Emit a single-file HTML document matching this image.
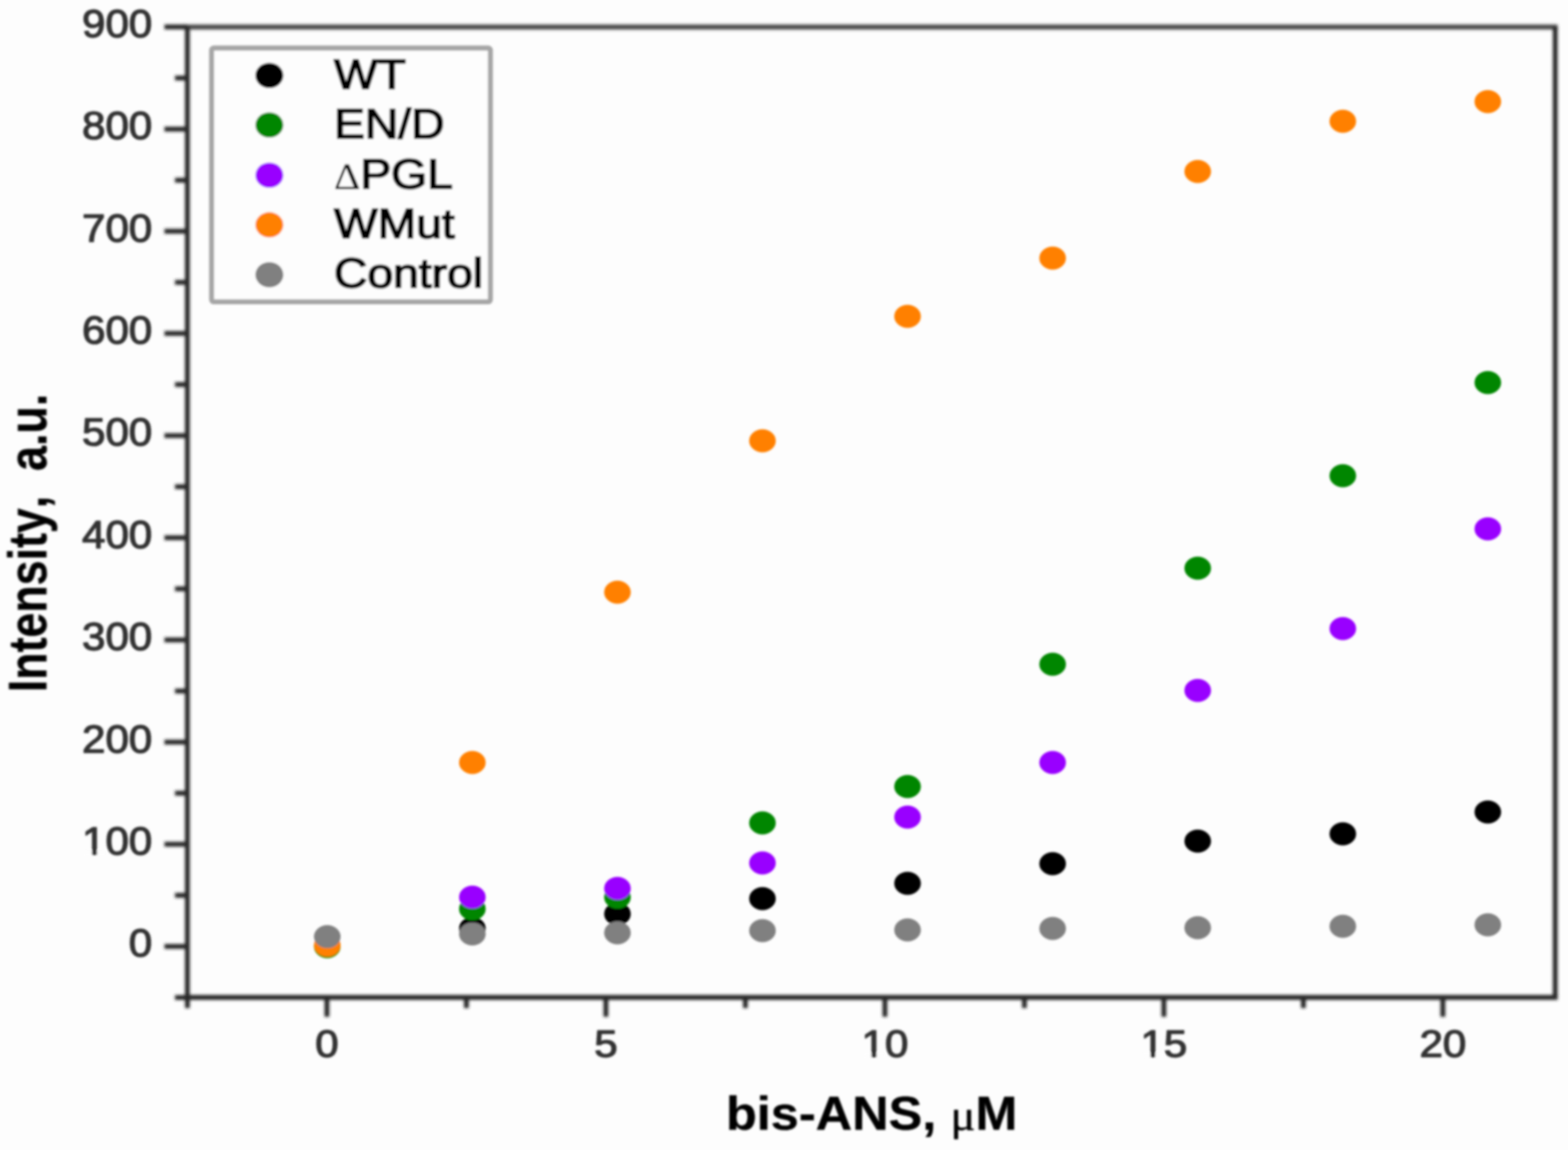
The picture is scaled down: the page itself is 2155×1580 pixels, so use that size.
<!DOCTYPE html>
<html lang="en">
<head>
<meta charset="utf-8">
<title>bis-ANS fluorescence intensity</title>
<style>
html,body{margin:0;padding:0;background:#fdfdfd;}
body{width:2155px;height:1580px;overflow:hidden;}
svg{display:block;position:absolute;left:0;top:0;}
text{font-family:"Liberation Sans",Arial,Helvetica,sans-serif;font-kerning:none;}
.tick{font-size:53.5px;fill:#333;stroke:#333;stroke-width:1.6px;stroke-linejoin:round;}
.leg{font-size:56.5px;fill:#000;stroke:#000;stroke-width:2.2px;stroke-linejoin:round;}
.ttl{font-size:61.5px;font-weight:bold;fill:#000;stroke:#000;stroke-width:0.4px;stroke-linejoin:round;}
.sym{font-family:"Liberation Serif","DejaVu Serif",serif;font-weight:normal;}
</style>
</head>
<body>
<svg width="2155" height="1580" viewBox="0 0 2155 1580">
<defs>
<filter id="b" x="-5%" y="-5%" width="110%" height="110%"><feGaussianBlur stdDeviation="1.4"/></filter>
<filter id="ba" x="-5%" y="-5%" width="110%" height="110%"><feGaussianBlur stdDeviation="1.9"/></filter>
<filter id="bt" x="-5%" y="-5%" width="110%" height="110%"><feGaussianBlur stdDeviation="1.8"/></filter>
</defs>
<rect x="0" y="0" width="2155" height="1580" fill="#fdfdfd"/>

<g filter="url(#ba)" stroke="#262626" stroke-width="6.6" fill="none" stroke-linecap="butt">
<line x1="254.2" y1="37.1" x2="2140.7000000000003" y2="37.1" stroke="#444"/>
<line x1="257.5" y1="37.0" x2="257.5" y2="1370.5"/>
<line x1="254.2" y1="1370.4" x2="2140.7000000000003" y2="1370.4"/>
<line x1="2137.4" y1="37.0" x2="2137.4" y2="1370.5"/>
<line x1="226" y1="1300.3" x2="257.5" y2="1300.3"/>
<line x1="226" y1="1159.9" x2="257.5" y2="1159.9"/>
<line x1="226" y1="1019.6" x2="257.5" y2="1019.6"/>
<line x1="226" y1="879.2" x2="257.5" y2="879.2"/>
<line x1="226" y1="738.8" x2="257.5" y2="738.8"/>
<line x1="226" y1="598.5" x2="257.5" y2="598.5"/>
<line x1="226" y1="458.1" x2="257.5" y2="458.1"/>
<line x1="226" y1="317.7" x2="257.5" y2="317.7"/>
<line x1="226" y1="177.4" x2="257.5" y2="177.4"/>
<line x1="226" y1="37.0" x2="257.5" y2="37.0"/>
<line x1="240.5" y1="1370.5" x2="257.5" y2="1370.5"/>
<line x1="240.5" y1="1230.1" x2="257.5" y2="1230.1"/>
<line x1="240.5" y1="1089.8" x2="257.5" y2="1089.8"/>
<line x1="240.5" y1="949.4" x2="257.5" y2="949.4"/>
<line x1="240.5" y1="809.0" x2="257.5" y2="809.0"/>
<line x1="240.5" y1="668.7" x2="257.5" y2="668.7"/>
<line x1="240.5" y1="528.3" x2="257.5" y2="528.3"/>
<line x1="240.5" y1="387.9" x2="257.5" y2="387.9"/>
<line x1="240.5" y1="247.6" x2="257.5" y2="247.6"/>
<line x1="240.5" y1="107.2" x2="257.5" y2="107.2"/>
<line x1="449.3" y1="1370.5" x2="449.3" y2="1397"/>
<line x1="832.7" y1="1370.5" x2="832.7" y2="1397"/>
<line x1="1216.2" y1="1370.5" x2="1216.2" y2="1397"/>
<line x1="1599.6" y1="1370.5" x2="1599.6" y2="1397"/>
<line x1="1983.0" y1="1370.5" x2="1983.0" y2="1397"/>
<line x1="257.6" y1="1370.5" x2="257.6" y2="1385"/>
<line x1="641.0" y1="1370.5" x2="641.0" y2="1385"/>
<line x1="1024.4" y1="1370.5" x2="1024.4" y2="1385"/>
<line x1="1407.9" y1="1370.5" x2="1407.9" y2="1385"/>
<line x1="1791.3" y1="1370.5" x2="1791.3" y2="1385"/>
</g>
<g filter="url(#bt)">
<text class="tick" text-anchor="end" transform="translate(209.2,1314.2) scale(1.08,1)">0</text>
<text class="tick" text-anchor="end" transform="translate(209.2,1173.8) scale(1.08,1)">100</text>
<g transform="translate(209.2,1173.8) scale(1.08,1)" fill="#fdfdfd"><rect x="-86.79" y="-5.60" width="10.18" height="7.20"/><rect x="-70.28" y="-5.60" width="9.76" height="7.20"/></g>
<text class="tick" text-anchor="end" transform="translate(209.2,1033.5) scale(1.08,1)">200</text>
<text class="tick" text-anchor="end" transform="translate(209.2,893.1) scale(1.08,1)">300</text>
<text class="tick" text-anchor="end" transform="translate(209.2,752.7) scale(1.08,1)">400</text>
<text class="tick" text-anchor="end" transform="translate(209.2,612.4) scale(1.08,1)">500</text>
<text class="tick" text-anchor="end" transform="translate(209.2,472.0) scale(1.08,1)">600</text>
<text class="tick" text-anchor="end" transform="translate(209.2,331.6) scale(1.08,1)">700</text>
<text class="tick" text-anchor="end" transform="translate(209.2,191.3) scale(1.08,1)">800</text>
<text class="tick" text-anchor="end" transform="translate(209.2,50.9) scale(1.08,1)">900</text>
<text class="tick" style="font-size:51.8px" text-anchor="middle" transform="translate(449.3,1452) scale(1.115,1)">0</text>
<text class="tick" style="font-size:51.8px" text-anchor="middle" transform="translate(832.7,1452) scale(1.115,1)">5</text>
<text class="tick" style="font-size:51.8px" text-anchor="middle" transform="translate(1216.2,1452) scale(1.115,1)">10</text>
<g transform="translate(1216.2,1452.0) scale(1.115,1)" fill="#fdfdfd"><rect x="-26.46" y="-5.47" width="9.88" height="7.07"/><rect x="-10.40" y="-5.47" width="9.48" height="7.07"/></g>
<text class="tick" style="font-size:51.8px" text-anchor="middle" transform="translate(1599.6,1452) scale(1.115,1)">15</text>
<g transform="translate(1599.6,1452.0) scale(1.115,1)" fill="#fdfdfd"><rect x="-26.46" y="-5.47" width="9.88" height="7.07"/><rect x="-10.40" y="-5.47" width="9.48" height="7.07"/></g>
<text class="tick" style="font-size:51.8px" text-anchor="middle" transform="translate(1983.0,1452) scale(1.115,1)">20</text>
<text class="ttl" style="font-size:65px" text-anchor="middle" transform="translate(1198,1552.3) scale(1.068,1)">bis-ANS, <tspan class="sym" style="font-size:60px;stroke-width:0.6px">μ</tspan>M</text>
<text class="ttl" text-anchor="middle" xml:space="preserve" transform="translate(63.6,746) scale(1.208,1) rotate(-90)">Intensity,  a.u.</text>
</g>
<g filter="url(#b)">
<g fill="#000000">
<ellipse cx="649.2" cy="1275.6" rx="18.3" ry="15.8"/>
<ellipse cx="848.6" cy="1255.6" rx="18.3" ry="15.8"/>
<ellipse cx="1047.9" cy="1234.6" rx="18.3" ry="15.8"/>
<ellipse cx="1247.3" cy="1213.6" rx="18.3" ry="15.8"/>
<ellipse cx="1446.7" cy="1186.6" rx="18.3" ry="15.8"/>
<ellipse cx="1646.1" cy="1155.6" rx="18.3" ry="15.8"/>
<ellipse cx="1845.5" cy="1145.6" rx="18.3" ry="15.8"/>
<ellipse cx="2044.8" cy="1115.6" rx="18.3" ry="15.8"/>
</g>
<g fill="#008600">
<ellipse cx="449.8" cy="1300.6" rx="18.3" ry="15.8"/>
<ellipse cx="649.2" cy="1248.6" rx="18.3" ry="15.8"/>
<ellipse cx="848.6" cy="1232.6" rx="18.3" ry="15.8"/>
<ellipse cx="1047.9" cy="1130.6" rx="18.3" ry="15.8"/>
<ellipse cx="1247.3" cy="1080.6" rx="18.3" ry="15.8"/>
<ellipse cx="1446.7" cy="912.6" rx="18.3" ry="15.8"/>
<ellipse cx="1646.1" cy="780.6" rx="18.3" ry="15.8"/>
<ellipse cx="1845.5" cy="653.6" rx="18.3" ry="15.8"/>
<ellipse cx="2044.8" cy="525.6" rx="18.3" ry="15.8"/>
</g>
<g fill="#9900ff">
<ellipse cx="649.2" cy="1232.6" rx="18.3" ry="15.8"/>
<ellipse cx="848.6" cy="1220.6" rx="18.3" ry="15.8"/>
<ellipse cx="1047.9" cy="1185.6" rx="18.3" ry="15.8"/>
<ellipse cx="1247.3" cy="1122.6" rx="18.3" ry="15.8"/>
<ellipse cx="1446.7" cy="1047.6" rx="18.3" ry="15.8"/>
<ellipse cx="1646.1" cy="948.6" rx="18.3" ry="15.8"/>
<ellipse cx="1845.5" cy="863.6" rx="18.3" ry="15.8"/>
<ellipse cx="2044.8" cy="726.6" rx="18.3" ry="15.8"/>
</g>
<g fill="#ff8000">
<ellipse cx="449.8" cy="1298.6" rx="18.3" ry="15.8"/>
<ellipse cx="649.2" cy="1047.6" rx="18.3" ry="15.8"/>
<ellipse cx="848.6" cy="813.6" rx="18.3" ry="15.8"/>
<ellipse cx="1047.9" cy="605.6" rx="18.3" ry="15.8"/>
<ellipse cx="1247.3" cy="434.6" rx="18.3" ry="15.8"/>
<ellipse cx="1446.7" cy="354.6" rx="18.3" ry="15.8"/>
<ellipse cx="1646.1" cy="235.6" rx="18.3" ry="15.8"/>
<ellipse cx="1845.5" cy="166.6" rx="18.3" ry="15.8"/>
<ellipse cx="2044.8" cy="139.6" rx="18.3" ry="15.8"/>
</g>
<g fill="#808080">
<ellipse cx="449.8" cy="1286.8" rx="18.3" ry="15.8"/>
<ellipse cx="649.2" cy="1283.2" rx="18.3" ry="15.8"/>
<ellipse cx="848.6" cy="1281.6" rx="18.3" ry="15.8"/>
<ellipse cx="1047.9" cy="1278.6" rx="18.3" ry="15.8"/>
<ellipse cx="1247.3" cy="1277.6" rx="18.3" ry="15.8"/>
<ellipse cx="1446.7" cy="1275.6" rx="18.3" ry="15.8"/>
<ellipse cx="1646.1" cy="1274.6" rx="18.3" ry="15.8"/>
<ellipse cx="1845.5" cy="1272.6" rx="18.3" ry="15.8"/>
<ellipse cx="2044.8" cy="1270.6" rx="18.3" ry="15.8"/>
</g>
</g>
<g filter="url(#b)">
<rect x="290.8" y="66.0" width="383.2" height="348.6" rx="3" ry="3" fill="#fdfdfd" stroke="#a6a6a6" stroke-width="6.8"/>
<ellipse cx="370.2" cy="103.7" rx="19.2" ry="17.3" fill="#000000"/>
<text class="leg" transform="translate(459,122.2) scale(1.125,1)">WT</text>
<ellipse cx="370.2" cy="171.8" rx="19.2" ry="17.3" fill="#008600"/>
<text class="leg" transform="translate(459,190.2) scale(1.125,1)">EN/D</text>
<ellipse cx="370.2" cy="240.8" rx="19.2" ry="17.3" fill="#9900ff"/>
<text class="leg" transform="translate(459,258.8) scale(1.125,1)"><tspan class="sym" style="font-size:50px;stroke-width:0.4px">Δ</tspan>PGL</text>
<ellipse cx="370.2" cy="308.90000000000003" rx="19.2" ry="17.3" fill="#ff8000"/>
<text class="leg" transform="translate(459,326.6) scale(1.125,1)">WMut</text>
<ellipse cx="370.2" cy="377.5" rx="19.2" ry="17.3" fill="#808080"/>
<text class="leg" transform="translate(459,395.2) scale(1.125,1)">Control</text>
</g>
</svg>
</body>
</html>
